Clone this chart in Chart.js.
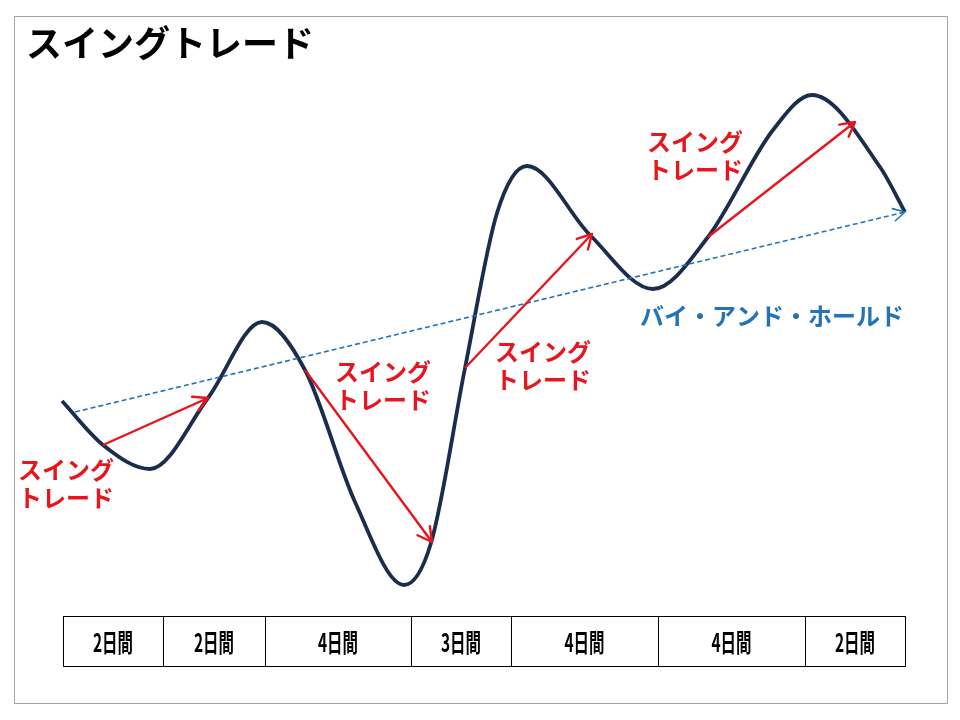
<!DOCTYPE html>
<html lang="ja">
<head>
  <meta charset="UTF-8">
  <title>スイングトレード</title>
  <script src="https://cdn.jsdelivr.net/npm/chart.js"></script>
  <style>
    body { margin: 0; background: #fff; }
    canvas { display: block; }
  </style>
</head>
<body>
  <canvas id="swingChart" width="960" height="720"></canvas>

  <script>
    // 価格の動き (横: 時間, 縦: 価格)
    const priceX = [62, 103, 150, 208, 262, 305, 355, 404, 431, 465, 497, 527, 590, 653, 708, 773, 812, 880, 905];
    const priceY = [319, 275, 251, 322, 398, 350, 218, 135, 177, 352, 507, 554, 485, 431, 483, 590, 625, 553, 508];

    // スイングトレードの矢印
    const swingFromX = [103, 305, 465, 708];
    const swingFromY = [275, 350, 352, 483];
    const swingToX = [208, 432, 592, 855];
    const swingToY = [322, 178, 486, 598];

    // バイ・アンド・ホールド
    const holdX = [75, 905];
    const holdY = [308, 508];

    // ラベル
    const swingLabelX = [66, 383, 543, 695];
    const swingLabelY = [250, 348, 368, 578];
    const holdLabel = 'バイ・アンド・ホールド';
    const holdLabelX = 772;
    const holdLabelY = 404;

    // 期間の表
    const periodLabels = ['2日間', '2日間', '4日間', '3日間', '4日間', '4日間', '2日間'];
    const periodEdges = [63, 163, 265, 411, 511, 658, 805, 905];
    const tableTop = 104;
    const tableBottom = 54;

    const JP = '"Noto Sans CJK JP", "Noto Sans", sans-serif';
    const RED = '#e5161d';
    const BLUE = '#2473b6';

    function arrowHead(ctx, x1, y1, x2, y2, len, color, width) {
      const a = Math.atan2(y2 - y1, x2 - x1);
      ctx.save();
      ctx.strokeStyle = color;
      ctx.lineWidth = width;
      ctx.lineCap = 'round';
      ctx.lineJoin = 'round';
      ctx.setLineDash([]);
      ctx.beginPath();
      ctx.moveTo(x2 - len * Math.cos(a - 0.5), y2 - len * Math.sin(a - 0.5));
      ctx.lineTo(x2, y2);
      ctx.lineTo(x2 - len * Math.cos(a + 0.5), y2 - len * Math.sin(a + 0.5));
      ctx.stroke();
      ctx.restore();
    }

    const decorPlugin = {
      id: 'decor',
      beforeDraw(chart) {
        const ctx = chart.ctx;
        ctx.save();
        ctx.fillStyle = '#fff';
        ctx.fillRect(0, 0, chart.width, chart.height);
        ctx.strokeStyle = '#a6a6a6';
        ctx.lineWidth = 1;
        ctx.strokeRect(14.5, 16.5, 933, 687);
        ctx.fillStyle = '#000';
        ctx.font = 'bold 36px ' + JP;
        ctx.textBaseline = 'middle';
        ctx.fillText('スイングトレード', 26, 43);
        ctx.restore();
      },
      afterDatasetsDraw(chart) {
        const ctx = chart.ctx;
        const sx = chart.scales.x, sy = chart.scales.y;
        const px = v => sx.getPixelForValue(v);
        const py = v => sy.getPixelForValue(v);

        // 矢印の先
        swingToX.forEach((x, i) => {
          arrowHead(ctx, px(swingFromX[i]), py(swingFromY[i]), px(x), py(swingToY[i]), 16, RED, 2.4);
        });
        arrowHead(ctx, px(holdX[0]), py(holdY[0]), px(holdX[1]), py(holdY[1]), 13, BLUE, 1.6);

        ctx.save();
        ctx.textAlign = 'center';
        ctx.textBaseline = 'middle';
        ctx.font = 'bold 24px ' + JP;
        ctx.fillStyle = RED;
        swingLabelX.forEach((x, i) => {
          ctx.fillText('スイング', px(x), py(swingLabelY[i]));
          ctx.fillText('トレード', px(x), py(swingLabelY[i]) + 28);
        });
        ctx.fillStyle = BLUE;
        ctx.font = 'bold 24px ' + JP;
        ctx.fillText(holdLabel, px(holdLabelX), py(holdLabelY));

        // 表
        const top = Math.round(py(tableTop)) + 0.5;
        const bottom = Math.round(py(tableBottom)) + 0.5;
        ctx.strokeStyle = '#000';
        ctx.lineWidth = 1;
        ctx.strokeRect(Math.round(px(periodEdges[0])) + 0.5, top,
          px(periodEdges[periodEdges.length - 1]) - px(periodEdges[0]), bottom - top);
        periodEdges.slice(1, -1).forEach(e => {
          const x = Math.round(px(e)) + 0.5;
          ctx.beginPath();
          ctx.moveTo(x, top);
          ctx.lineTo(x, bottom);
          ctx.stroke();
        });
        ctx.fillStyle = '#000';
        ctx.font = 'bold 25px ' + JP;
        periodLabels.forEach((t, i) => {
          const cx = (px(periodEdges[i]) + px(periodEdges[i + 1])) / 2;
          ctx.save();
          ctx.translate(cx, (top + bottom) / 2 + 1);
          ctx.scale(0.62, 1);
          ctx.fillText(t, 0, 0);
          ctx.restore();
        });
        ctx.restore();
      }
    };

    const toPoints = (xs, ys) => xs.map((x, i) => ({ x: x, y: ys[i] }));

    const datasets = [
      {
        label: '価格',
        data: toPoints(priceX, priceY),
        borderColor: '#1b2d4f',
        borderWidth: 3.8,
        cubicInterpolationMode: 'monotone',
        pointRadius: 0,
        order: 3
      },
      {
        label: 'バイ・アンド・ホールド',
        data: toPoints(holdX, holdY),
        borderColor: BLUE,
        borderWidth: 1.6,
        borderDash: [5, 3],
        pointRadius: 0,
        order: 2
      }
    ];
    swingFromX.forEach((x, i) => {
      datasets.push({
        label: 'スイングトレード',
        data: [{ x: x, y: swingFromY[i] }, { x: swingToX[i], y: swingToY[i] }],
        borderColor: RED,
        borderWidth: 2.4,
        pointRadius: 0,
        order: 1
      });
    });

    new Chart(document.getElementById('swingChart'), {
      type: 'scatter',
      data: { datasets: datasets },
      options: {
        responsive: false,
        animation: false,
        showLine: true,
        layout: { padding: 0 },
        plugins: { legend: { display: false }, tooltip: { enabled: false } },
        scales: {
          x: { type: 'linear', min: 0, max: 960, display: false },
          y: { type: 'linear', min: 0, max: 720, display: false }
        }
      },
      plugins: [decorPlugin]
    });
  </script>
</body>
</html>
